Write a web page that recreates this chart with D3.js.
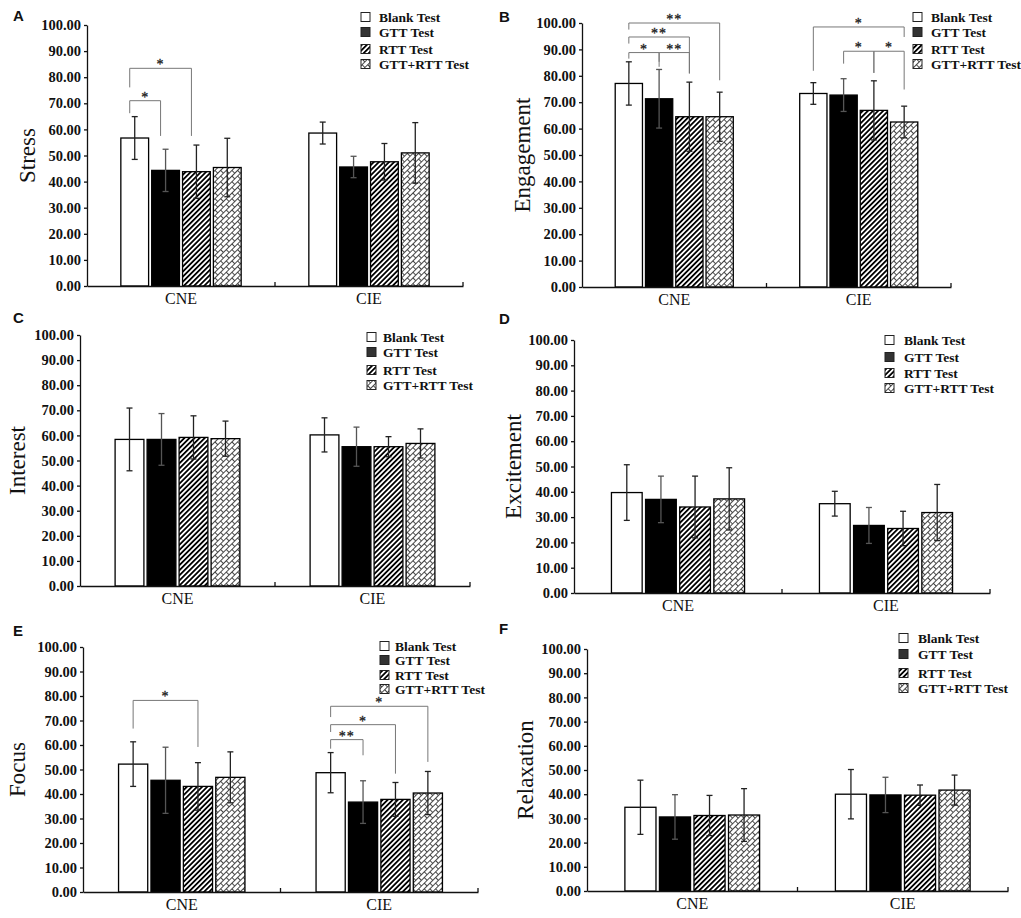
<!DOCTYPE html>
<html>
<head>
<meta charset="utf-8">
<script src="https://cdn.jsdelivr.net/npm/d3@7"></script>
<style>
  body { margin: 0; background: #fff; }
</style>
</head>
<body>
<script>
// Categories and series
const groups = ["CNE", "CIE"];
const series = ["Blank Test", "GTT Test", "RTT Test", "GTT+RTT Test"];
const yTicks = [0, 10, 20, 30, 40, 50, 60, 70, 80, 90, 100];

// Means and SDs per panel: [CNE values, CIE values]
const stressMean = [[56.7, 44.3, 43.8, 45.4], [58.6, 45.6, 47.6, 51.0]];
const stressSd = [[8.2, 8.1, 10.2, 11.2], [4.2, 4.1, 7.0, 11.6]];
const engagementMean = [[77.1, 71.3, 64.5, 64.5], [73.3, 72.7, 66.9, 62.5]];
const engagementSd = [[8.2, 11.1, 13.1, 9.3], [4.1, 6.2, 11.2, 6.0]];
const interestMean = [[58.4, 58.4, 59.2, 58.7], [60.2, 55.5, 55.5, 56.8]];
const interestSd = [[12.5, 10.3, 8.6, 7.0], [6.8, 7.8, 4.0, 5.8]];
const excitementMean = [[39.7, 37.0, 34.0, 37.2], [35.3, 26.7, 25.5, 31.8]];
const excitementSd = [[11.0, 9.2, 12.2, 12.3], [4.9, 7.1, 6.8, 11.1]];
const focusMean = [[52.2, 45.6, 43.1, 46.8], [48.7, 36.7, 37.8, 40.4]];
const focusSd = [[9.1, 13.5, 9.7, 10.4], [8.2, 8.7, 6.9, 8.8]];
const relaxationMean = [[34.6, 30.6, 31.2, 31.4], [40.0, 39.7, 39.6, 41.7]];
const relaxationSd = [[11.2, 9.2, 8.3, 10.9], [10.2, 7.3, 4.2, 6.2]];

// Significance brackets (values in data units)
const stressBrackets = [
    { g: 0, from: 0, to: 2, level: 83.4, y1: 76.1, y2: 57.5, label: "*" },
    { g: 0, from: 0, to: 1, level: 71.0, y1: 66.2, y2: 57.5, label: "*" }
];
const engagementBrackets = [
    { g: 0, from: 0, to: 3, level: 100.0, y1: 97.5, y2: 78.3, label: "**" },
    { g: 0, from: 0, to: 2, level: 94.7, y1: 92.2, y2: 80.9, label: "**" },
    { g: 0, from: 0, to: 1, level: 88.8, y1: 86.5, y2: 85.3, label: "*" },
    { g: 0, from: 1, to: 2, level: 88.8, y1: 83.4, y2: 80.9, label: "**" },
    { g: 1, from: 0, to: 3, level: 98.5, y1: 81.9, y2: 94.7, label: "*" },
    { g: 1, from: 1, to: 2, level: 89.3, y1: 84.6, y2: 81.1, label: "*" },
    { g: 1, from: 2, to: 3, level: 89.3, y1: 81.1, y2: 74.8, label: "*" }
];
const focusBrackets = [
    { g: 0, from: 0, to: 2, level: 78.2, y1: 66.7, y2: 59.2, label: "*" },
    { g: 1, from: 0, to: 3, level: 75.8, y1: 71.4, y2: 53.1, label: "*" },
    { g: 1, from: 0, to: 2, level: 68.3, y1: 65.3, y2: 48.3, label: "*" },
    { g: 1, from: 0, to: 1, level: 62.2, y1: 58.5, y2: 55.8, label: "**" }
];

// Panel layout
const panels = [
    { id: "A", title: "Stress", mean: stressMean, sd: stressSd, brackets: stressBrackets,
      left: 87, right: 463, top: 25, bottom: 286, lx: 13, ly: 21, titleX: 27,
      legX: 361, legTextX: 379, legY: 17, legRows: [0, 15, 32, 47], bdx: -5 },
    { id: "B", title: "Engagement", mean: engagementMean, sd: engagementSd, brackets: engagementBrackets,
      left: 582, right: 951, top: 23, bottom: 287, lx: 499, ly: 22, titleX: 522,
      legX: 913, legTextX: 931, legY: 17, legRows: [0, 15, 32, 47], bdx: 0 },
    { id: "C", title: "Interest", mean: interestMean, sd: interestSd, brackets: [],
      left: 80, right: 470, top: 335, bottom: 586, lx: 13, ly: 323, titleX: 17,
      legX: 367, legTextX: 383, legY: 337, legRows: [0, 15, 33, 48], bdx: 0 },
    { id: "D", title: "Excitement", mean: excitementMean, sd: excitementSd, brackets: [],
      left: 574, right: 990, top: 340, bottom: 593, lx: 499, ly: 324, titleX: 513,
      legX: 885, legTextX: 904, legY: 340, legRows: [0, 17, 33, 48], bdx: 0 },
    { id: "E", title: "Focus", mean: focusMean, sd: focusSd, brackets: focusBrackets,
      left: 83, right: 478, top: 647, bottom: 892, lx: 13, ly: 636, titleX: 17,
      legX: 380, legTextX: 395, legY: 646, legRows: [0, 14, 29, 43], bdx: 0 },
    { id: "F", title: "Relaxation", mean: relaxationMean, sd: relaxationSd, brackets: [],
      left: 587, right: 1008, top: 649, bottom: 891, lx: 499, ly: 634, titleX: 525,
      legX: 899, legTextX: 918, legY: 638, legRows: [0, 16, 35, 50], bdx: 0 }
];

const serif = "'Liberation Serif', 'Times New Roman', serif";

const svg = d3.select("body")
    .append("svg")
    .attr("width", 1021)
    .attr("height", 918);

// Fill patterns
const defs = svg.append("defs");

const diag = defs.append("pattern")
    .attr("id", "diag")
    .attr("patternUnits", "userSpaceOnUse")
    .attr("width", 3.6)
    .attr("height", 3.6)
    .attr("patternTransform", "rotate(45)");
diag.append("rect").attr("width", 3.6).attr("height", 3.6).attr("fill", "#fff");
diag.append("line")
    .attr("x1", 0.9).attr("y1", 0).attr("x2", 0.9).attr("y2", 3.6)
    .attr("stroke", "#000").attr("stroke-width", 1.8);

const brick = defs.append("pattern")
    .attr("id", "brick")
    .attr("patternUnits", "userSpaceOnUse")
    .attr("width", 8)
    .attr("height", 8)
    .attr("patternTransform", "rotate(45)");
brick.append("rect").attr("width", 8).attr("height", 8).attr("fill", "#fff");
brick.append("path")
    .attr("d", "M0.5,0V8M4.5,0V8M0.5,0.5H4.5M4.5,4.5H8.5")
    .attr("stroke", "#333").attr("stroke-width", 0.9).attr("fill", "none");

const fills = ["#fff", "#000", "url(#diag)", "url(#brick)"];
const legendFills = ["#fff", "#333", "url(#diag)", "url(#brick)"];

panels.forEach(p => {
    const g = svg.append("g");

    // Scales
    const x = d3.scaleBand()
        .domain(groups)
        .range([p.left, p.right])
        .padding(0);

    const xs = d3.scaleBand()
        .domain(series)
        .range([x.bandwidth() * 0.18, x.bandwidth() * 0.82])
        .paddingInner(0.1);

    const y = d3.scaleLinear()
        .domain([0, 100])
        .range([p.bottom, p.top]);

    const rows = groups.flatMap((grp, gi) => series.map((s, si) => ({
        grp: grp, s: s, si: si, mean: p.mean[gi][si], sd: p.sd[gi][si]
    })));
    const cx = d => x(d.grp) + xs(d.s) + xs.bandwidth() / 2;

    // Bars
    g.selectAll(".bar")
        .data(rows)
        .enter()
        .append("rect")
        .attr("class", "bar")
        .attr("x", d => x(d.grp) + xs(d.s))
        .attr("y", d => y(d.mean))
        .attr("width", xs.bandwidth())
        .attr("height", d => y(0) - y(d.mean))
        .attr("fill", d => fills[d.si])
        .attr("stroke", "#000")
        .attr("stroke-width", 1.3);

    // Error bars
    const err = g.selectAll(".err")
        .data(rows)
        .enter()
        .append("g")
        .attr("class", "err")
        .attr("stroke", d => d.si === 1 ? "#555" : "#222")
        .attr("stroke-width", 1.3);
    err.append("line")
        .attr("x1", cx).attr("x2", cx)
        .attr("y1", d => y(d.mean + d.sd))
        .attr("y2", d => y(d.mean - d.sd));
    err.append("line")
        .attr("x1", d => cx(d) - 3).attr("x2", d => cx(d) + 3)
        .attr("y1", d => y(d.mean + d.sd)).attr("y2", d => y(d.mean + d.sd));
    err.append("line")
        .attr("x1", d => cx(d) - 3).attr("x2", d => cx(d) + 3)
        .attr("y1", d => y(d.mean - d.sd)).attr("y2", d => y(d.mean - d.sd));

    // Y axis
    g.append("g")
        .attr("transform", `translate(${p.left}, 0)`)
        .call(d3.axisLeft(y).tickValues(yTicks).tickFormat(d3.format(".2f"))
            .tickSize(3).tickSizeOuter(0).tickPadding(3))
        .call(a => a.selectAll("path, line").attr("stroke", "#111").attr("stroke-width", 1.3))
        .call(a => a.selectAll("text")
            .attr("font-family", serif)
            .attr("font-weight", "bold")
            .attr("font-size", 14.5)
            .attr("fill", "#111"));

    // X axis
    g.append("g")
        .attr("transform", `translate(0, ${p.bottom})`)
        .call(d3.axisBottom(x).tickSize(0).tickSizeOuter(0).tickPadding(7))
        .call(a => a.select(".domain").attr("stroke", "#111").attr("stroke-width", 1.3))
        .call(a => a.selectAll("text")
            .attr("font-family", serif)
            .attr("font-size", 16)
            .attr("fill", "#111"));

    // Inward ticks at group boundaries
    g.selectAll(".xtick")
        .data([groups[1], null])
        .enter()
        .append("line")
        .attr("class", "xtick")
        .attr("x1", d => d ? x(d) : p.right)
        .attr("x2", d => d ? x(d) : p.right)
        .attr("y1", p.bottom)
        .attr("y2", p.bottom - 4)
        .attr("stroke", "#111")
        .attr("stroke-width", 1.3);

    // Y axis title
    g.append("text")
        .attr("transform", `translate(${p.titleX}, ${(p.top + p.bottom) / 2}) rotate(-90)`)
        .attr("text-anchor", "middle")
        .attr("dy", "0.35em")
        .attr("font-family", serif)
        .attr("font-size", 23)
        .attr("fill", "#111")
        .text(p.title);

    // Panel letter
    g.append("text")
        .attr("x", p.lx)
        .attr("y", p.ly)
        .attr("font-family", "'Liberation Sans', Arial, sans-serif")
        .attr("font-weight", "bold")
        .attr("font-size", 15)
        .attr("fill", "#111")
        .text(p.id);

    // Legend
    const leg = g.selectAll(".leg")
        .data(series)
        .enter()
        .append("g")
        .attr("class", "leg")
        .attr("transform", (d, i) => `translate(0, ${p.legY + p.legRows[i]})`);
    leg.append("rect")
        .attr("x", p.legX)
        .attr("y", -4.5)
        .attr("width", 9)
        .attr("height", 9)
        .attr("fill", (d, i) => legendFills[i])
        .attr("stroke", "#222")
        .attr("stroke-width", 1);
    leg.append("text")
        .attr("x", p.legTextX)
        .attr("y", 0)
        .attr("dy", "0.35em")
        .attr("font-family", serif)
        .attr("font-weight", "bold")
        .attr("font-size", 13.5)
        .attr("fill", "#111")
        .text(d => d);

    // Significance brackets
    const bx = (gi, si) => x(groups[gi]) + xs(series[si]) + xs.bandwidth() / 2 + p.bdx;
    g.selectAll(".bracket")
        .data(p.brackets)
        .enter()
        .append("path")
        .attr("class", "bracket")
        .attr("d", b => `M${bx(b.g, b.from)},${y(b.y1)}V${y(b.level)}H${bx(b.g, b.to)}V${y(b.y2)}`)
        .attr("fill", "none")
        .attr("stroke", "#777")
        .attr("stroke-width", 1);
    g.selectAll(".star")
        .data(p.brackets)
        .enter()
        .append("text")
        .attr("class", "star")
        .attr("x", b => (bx(b.g, b.from) + bx(b.g, b.to)) / 2)
        .attr("y", b => y(b.level) + 1)
        .attr("text-anchor", "middle")
        .attr("font-family", serif)
        .attr("font-size", 14)
        .attr("letter-spacing", 1)
        .attr("fill", "#222")
        .attr("stroke", "#222")
        .attr("stroke-width", 0.3)
        .text(b => b.label);
});
</script>
</body>
</html>
